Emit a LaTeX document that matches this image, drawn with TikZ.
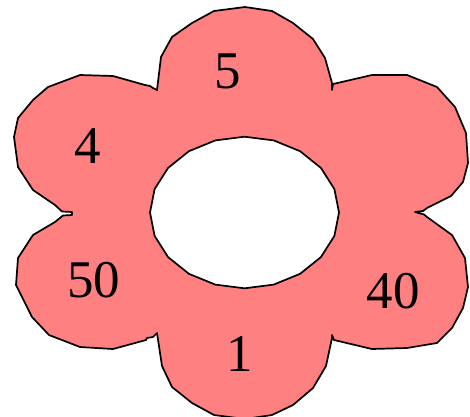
\documentclass[tikz,border=0pt]{standalone}
\usepackage{fontspec}
\setmainfont{Liberation Serif}
\definecolor{petal}{RGB}{255,128,128}

\begin{document}
\begin{tikzpicture}[x=1pt, y=-1pt,
    flower/.style={draw=black, line width=1.7pt, fill=petal, even odd rule, line join=round},
    num/.style={font=\fontsize{53}{60}\selectfont, inner sep=0pt}
]
\useasboundingbox (0,0) rectangle (470,416);

% outline, petal by petal, then the hole in the middle
\draw[flower]
    (157,90) -- (161,57) -- (172,37) -- (192,23) -- (214,11) -- (245,7) -- (272,11)
    -- (293,23) -- (313,39) -- (325,58) -- (332,83) -- (332,90) -- (333,84)
    -- (372,75) -- (407,75) -- (437,87) -- (455,107) -- (466,133) -- (468,163)
    -- (463,182) -- (451,196) -- (427,208) -- (423,211) -- (415,212) -- (424,214.5) -- (427,217)
    -- (452,235) -- (465,258) -- (468,287) -- (463,308) -- (452,328) -- (437,343)
    -- (407,348) -- (372,349) -- (334,340) -- (332,335) -- (332,338)
    -- (326,366) -- (313,388) -- (293,405) -- (272,415) -- (245,419) -- (214,415)
    -- (192,403) -- (172,387) -- (162,366) -- (157,333) -- (153,337) -- (147,338) -- (146,340)
    -- (113,349) -- (80,347) -- (49,335) -- (32,317) -- (16,285) -- (18,258)
    -- (33,235) -- (55,222) -- (63,215.5) -- (72,215) -- (72,212) -- (62,211.5)
    -- (55,205) -- (33,190) -- (18,167) -- (14,137) -- (18,118) -- (33,100)
    -- (48,87) -- (80,75) -- (113,76) -- (145,85) -- (150,86) -- (153,88) -- cycle
    plot[samples=21, domain=0:360] ({244.5+94.5*cos(\x)}, {212.5+75.8*sin(\x)}) -- cycle;

\node[num] (five) at (227.5,71) {5};
\node[num] (four) at (87.5,146) {4};
\node[num] (fifty) at (93.5,280) {50};
\node[num] (one) at (240,353.5) {1};
\node[num] (forty) at (393,291.5) {40};
\end{tikzpicture}
\end{document}
